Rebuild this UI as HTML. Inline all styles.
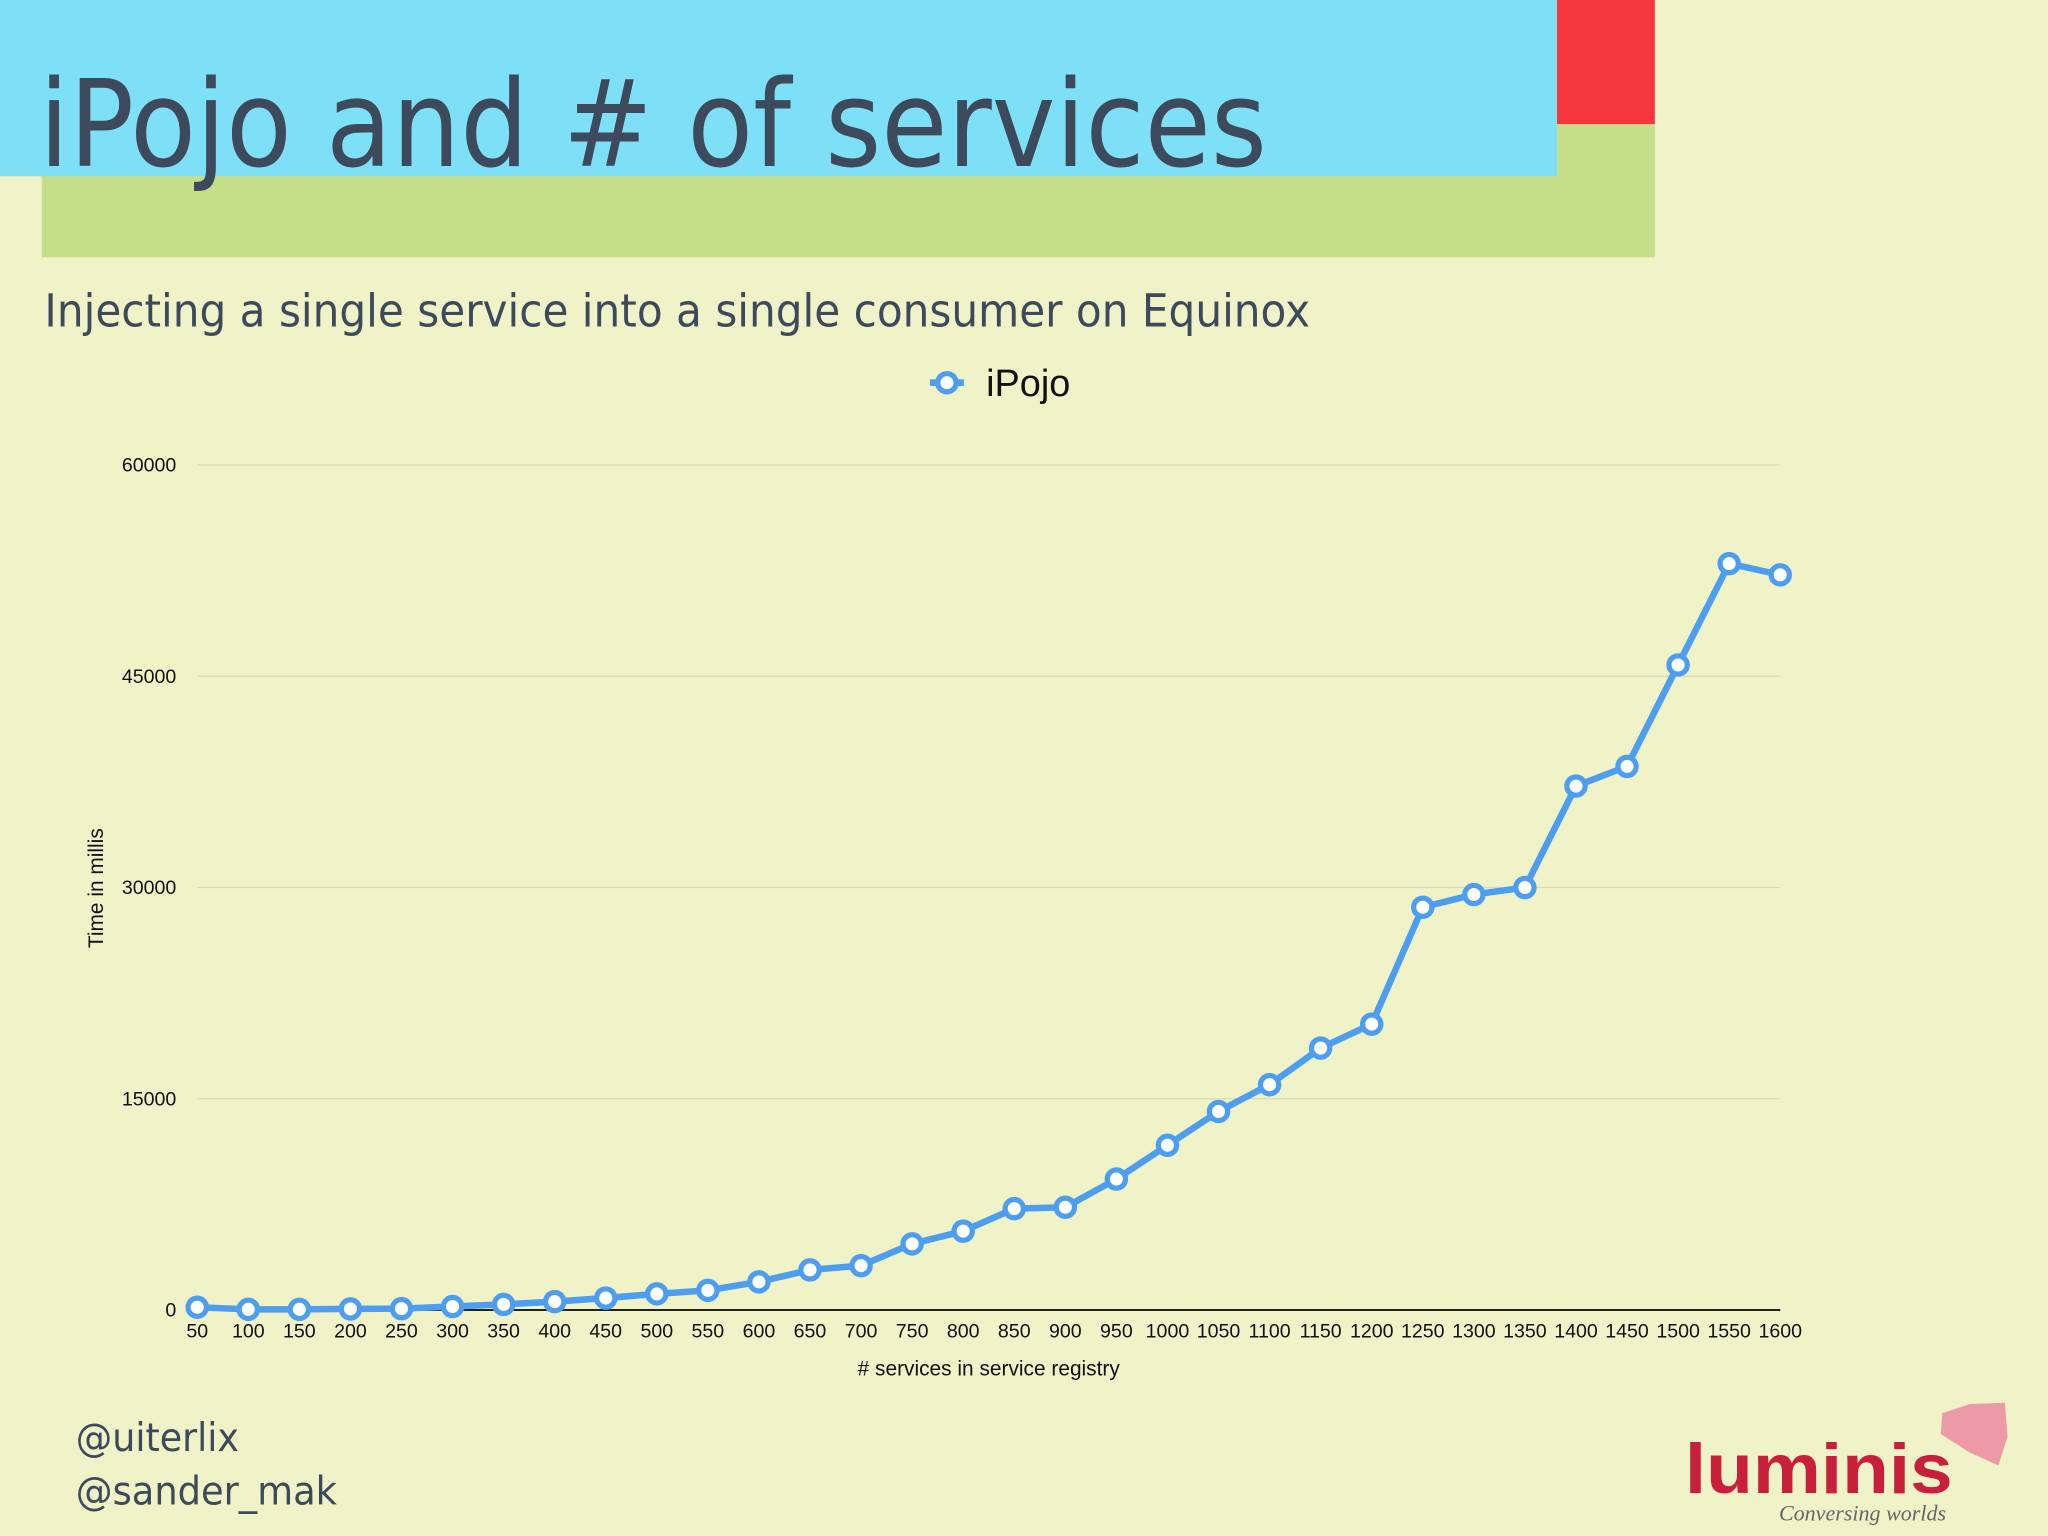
<!DOCTYPE html>
<html><head><meta charset="utf-8"><style>
html,body{margin:0;padding:0;background:#f0f2c8;}
svg{display:block;}
text{font-family:"Liberation Sans",sans-serif;}
</style></head><body>
<svg width="2048" height="1536" viewBox="0 0 1568 1176" xmlns="http://www.w3.org/2000/svg">
<rect x="0" y="0" width="1568" height="1176" fill="#f0f2c8"/>
<rect x="32" y="95" width="1235" height="102" fill="#c4df88"/>
<rect x="1192" y="0" width="75" height="95" fill="#f6373f"/>
<rect x="0" y="0" width="1192" height="135" fill="#7ee0f7"/>
<text x="30" y="127" font-size="92" fill="#3d4a5c" textLength="940" lengthAdjust="spacingAndGlyphs" style="font-family:'DejaVu Sans','Liberation Sans',sans-serif">iPojo and # of services</text>
<text x="34" y="250" font-size="35" fill="#3d4a5c" textLength="969" lengthAdjust="spacingAndGlyphs" style="font-family:'DejaVu Sans','Liberation Sans',sans-serif">Injecting a single service into a single consumer on Equinox</text>
<g>
<line x1="712" y1="293" x2="738" y2="293" stroke="#4e9ef0" stroke-width="5"/>
<circle cx="725" cy="293" r="7" fill="#fff" stroke="#4e9ef0" stroke-width="4"/>
<text x="755" y="303" font-size="29" fill="#111">iPojo</text>
</g>
<g id="grid"></g>
<g id="yticks"></g>
<g id="xticks"></g>
<line x1="151" y1="1003" x2="1363" y2="1003" stroke="#222" stroke-width="1.5"/>
<g id="series"></g>
<text x="757" y="1053" font-size="16" text-anchor="middle" fill="#111"># services in service registry</text>
<text transform="translate(79,680) rotate(-90)" font-size="16" text-anchor="middle" fill="#111">Time in millis</text>
<text x="58" y="1111" font-size="30" fill="#3d4a5c" textLength="125" lengthAdjust="spacingAndGlyphs" style="font-family:'DejaVu Sans','Liberation Sans',sans-serif">@uiterlix</text>
<text x="58" y="1152" font-size="30" fill="#3d4a5c" textLength="200" lengthAdjust="spacingAndGlyphs" style="font-family:'DejaVu Sans','Liberation Sans',sans-serif">@sander_mak</text>
<g>
<polygon points="1487,1082 1508,1075 1535,1074 1537,1100 1530,1122 1508,1112 1486,1098" fill="#eb9aa6"/>
<text x="1290" y="1143" font-size="54" font-weight="bold" fill="#c8203c" textLength="205" lengthAdjust="spacingAndGlyphs">luminis</text>
<text x="1362" y="1164" font-size="17" font-style="italic" fill="#666" textLength="128" lengthAdjust="spacingAndGlyphs" style="font-family:'Liberation Serif',serif">Conversing worlds</text>
</g>
</svg>
<script>
const categories=[50,100,150,200,250,300,350,400,450,500,550,600,650,700,750,800,850,900,950,1000,1050,1100,1150,1200,1250,1300,1350,1400,1450,1500,1550,1600];
const ipojoValues=[200,50,50,80,100,250,400,600,850,1150,1400,2000,2850,3150,4700,5600,7200,7300,9300,11700,14100,16000,18600,20300,28600,29500,30000,37200,38600,45800,53000,52200];
const yTicks=[0,15000,30000,45000,60000];
const NS="http://www.w3.org/2000/svg";
const x0=151,x1=1363,yb=1003,yt=356,yMax=60000;
function xs(i){return x0+(x1-x0)*i/(categories.length-1);}
function ys(v){return yb-(yb-yt)*v/yMax;}
const grid=document.getElementById('grid'),yt_g=document.getElementById('yticks'),xt_g=document.getElementById('xticks'),ser=document.getElementById('series');
yTicks.forEach(v=>{
 if(v>0){const l=document.createElementNS(NS,'line');
 l.setAttribute('x1',x0);l.setAttribute('x2',x1);l.setAttribute('y1',ys(v));l.setAttribute('y2',ys(v));
 l.setAttribute('stroke','#d8dcb4');l.setAttribute('stroke-width','1');
 
 
 grid.appendChild(l);}
 const t=document.createElementNS(NS,'text');
 t.setAttribute('x',135);t.setAttribute('y',ys(v)+5);t.setAttribute('font-size','15');t.setAttribute('text-anchor','end');t.setAttribute('fill','#111');
 t.textContent=v;
 
 
 yt_g.appendChild(t);
});
categories.forEach((c,i)=>{
 const t=document.createElementNS(NS,'text');
 t.setAttribute('x',xs(i));t.setAttribute('y',1024);t.setAttribute('font-size','15');t.setAttribute('text-anchor','middle');t.setAttribute('fill','#111');
 t.textContent=c;
 
 
 xt_g.appendChild(t);
});
const pl=document.createElementNS(NS,'polyline');
pl.setAttribute('points',ipojoValues.map((v,i)=>xs(i)+','+ys(v)).join(' '));
pl.setAttribute('fill','none');pl.setAttribute('stroke','#4e9ef0');pl.setAttribute('stroke-width','5');pl.setAttribute('stroke-linejoin','round');


ser.appendChild(pl);
ipojoValues.forEach((v,i)=>{
 const c=document.createElementNS(NS,'circle');
 c.setAttribute('cx',xs(i));c.setAttribute('cy',ys(v));c.setAttribute('r','7');
 c.setAttribute('fill','#fff');c.setAttribute('stroke','#4e9ef0');c.setAttribute('stroke-width','4');
 
 
 ser.appendChild(c);
});
</script>
</body></html>
